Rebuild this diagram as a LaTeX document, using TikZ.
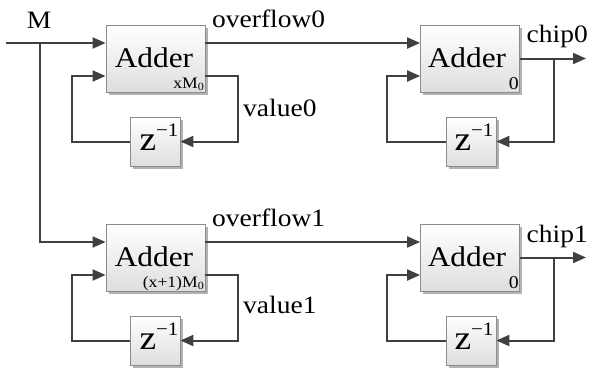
\documentclass[tikz,border=0pt]{standalone}
\usepackage{fontspec}
\setmainfont[FakeStretch=1.1]{Liberation Serif}
\usetikzlibrary{shadows,arrows.meta}

% delay term z^{-1}
\newcommand{\zinv}{{\fontsize{34}{36}\selectfont z}\raisebox{14pt}{\fontsize{19}{20}\selectfont −1}}

\begin{document}
\begin{tikzpicture}[x=1pt,y=-1pt,
  blk/.style={draw=black!45, line width=0.8pt, top color=white, bottom color=black!13,
    drop shadow={shadow xshift=2.5pt, shadow yshift=-2.5pt, fill=black!30, opacity=1},
    inner sep=0pt},
  adder/.style={blk, minimum width=99pt, minimum height=67pt},
  delay/.style={blk, minimum width=50pt, minimum height=49pt},
  wire/.style={draw=black!75, line width=2pt},
  arr/.style={wire, -{Triangle[length=13pt,width=11pt]}},
  lbl/.style={font=\fontsize{25}{27}\selectfont, inner sep=0pt, anchor=base west},
  big/.style={font=\fontsize{28.5}{30}\selectfont, inner sep=0pt, anchor=base},
  sub/.style={font=\fontsize{16}{17}\selectfont, inner sep=0pt, anchor=base east},
]
\useasboundingbox (0,0) rectangle (591,368);

% ---------- row 0 ----------
\node[adder] (a0) at (155.5,58.5) {};
\node[adder] (b0) at (470,58.5) {};
\node[delay] (za0) at (155,141.5) {};
\node[delay] (zb0) at (471,141.5) {};

\node[big] (a0t) at (154,67) {Adder};
\node[sub] (a0s) at (204,88) {xM\raisebox{-2pt}{\fontsize{11}{12}\selectfont 0}};
\node[big] (b0t) at (467,67) {Adder};
\node[sub, font=\fontsize{18}{19}\selectfont] (b0s) at (519,89) {0};
\node[inner sep=0pt, anchor=base] (za0t) at (159,150) {\zinv};
\node[inner sep=0pt, anchor=base] (zb0t) at (474,150) {\zinv};

% ---------- row 1 ----------
\node[adder] (a1) at (155.5,257.5) {};
\node[adder] (b1) at (470,257.5) {};
\node[delay] (za1) at (155,340.5) {};
\node[delay] (zb1) at (471,340.5) {};

\node[big] (a1t) at (154,266) {Adder};
\node[sub] (a1s) at (204,287) {(x+1)M\raisebox{-2pt}{\fontsize{11}{12}\selectfont 0}};
\node[big] (b1t) at (467,266) {Adder};
\node[sub, font=\fontsize{18}{19}\selectfont] (b1s) at (519,288) {0};
\node[inner sep=0pt, anchor=base] (za1t) at (159,349) {\zinv};
\node[inner sep=0pt, anchor=base] (zb1t) at (474,349) {\zinv};

% ---------- labels ----------
\node[lbl, anchor=base] (lm) at (39,28) {M};
\node[lbl] (lov0) at (212,27) {overflow0};
\node[lbl] (lva0) at (243,116) {value0};
\node[lbl, anchor=base east] (lch0) at (588,42) {chip0};
\node[lbl] (lov1) at (212,226) {overflow1};
\node[lbl] (lva1) at (243,313) {value1};
\node[lbl, anchor=base east] (lch1) at (588,242) {chip1};

% ---------- wiring ----------
\coordinate (min) at (6,43);
\coordinate (split) at (40,43);
\coordinate (fbA) at (72,0);
\coordinate (outA) at (238,0);
\coordinate (fbB) at (387,0);
\coordinate (tapB) at (554,0);
\coordinate (c0) at (586,58.5);
\coordinate (c1) at (586,257.5);

% input M and its branch to the lower adder
\draw[arr] (min) -- (a0.west |- min);
\draw[arr] (split) |- ([yshift=15.5pt]a1.west);

% overflow paths
\draw[arr] ([yshift=15.5pt]a0.east) -- ([yshift=15.5pt]b0.west);
\draw[arr] ([yshift=15.5pt]a1.east) -- ([yshift=15.5pt]b1.west);

% first-column accumulator loops
\foreach \ad/\zd in {a0/za0, a1/za1}{
  \coordinate (ain) at ([yshift=-17.5pt]\ad.west);
  \draw[arr] (\zd.west) -| (fbA |- ain) -- (ain);
  \draw[arr] ([yshift=-17.5pt]\ad.east) -| (outA |- \zd.east) -- (\zd.east);
}

% second-column loops and chip outputs
\foreach \bd/\zd/\cd in {b0/zb0/c0, b1/zb1/c1}{
  \coordinate (bin) at ([yshift=-17.5pt]\bd.west);
  \draw[arr] (\zd.west) -| (fbB |- bin) -- (bin);
  \draw[arr] (\bd.east) -- (\cd);
  \draw[arr] (tapB |- \bd.east) |- (\zd.east);
}
\end{tikzpicture}
\end{document}
